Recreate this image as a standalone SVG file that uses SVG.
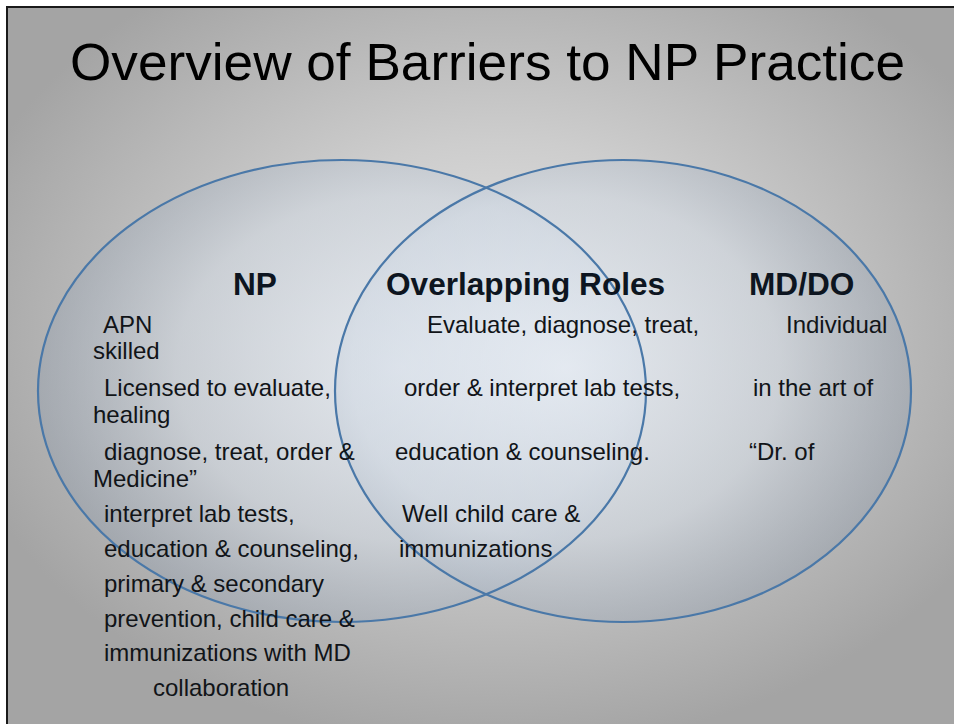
<svg xmlns="http://www.w3.org/2000/svg" width="954" height="724" viewBox="0 0 954 724">
  <defs>
    <radialGradient id="bg" cx="500" cy="330" r="560" gradientUnits="userSpaceOnUse" gradientTransform="translate(500 330) scale(1 0.75) translate(-500 -330)">
      <stop offset="0" stop-color="#e6e6e6"/>
      <stop offset="0.45" stop-color="#cdcdcd"/>
      <stop offset="1" stop-color="#a4a4a4"/>
    </radialGradient>
    <radialGradient id="setFill" cx="0.6" cy="0.45" r="0.62">
      <stop offset="0" stop-color="#e8eef6" stop-opacity="0.7"/>
      <stop offset="0.6" stop-color="#cfd8e3" stop-opacity="0.5"/>
      <stop offset="1" stop-color="#8f9bab" stop-opacity="0.4"/>
    </radialGradient>
    <radialGradient id="setFillR" cx="0.4" cy="0.45" r="0.62">
      <stop offset="0" stop-color="#e8eef6" stop-opacity="0.7"/>
      <stop offset="0.6" stop-color="#cfd8e3" stop-opacity="0.5"/>
      <stop offset="1" stop-color="#8f9bab" stop-opacity="0.4"/>
    </radialGradient>
  </defs>
  <style>
    .outline { fill: none; stroke: #4a78a8; stroke-width: 2.2; }
    .title { font-family: "Liberation Sans", Arial, sans-serif; font-size: 52px; fill: #000; }
    .head { font-family: "Liberation Sans", Arial, sans-serif; font-size: 31.6px; font-weight: bold; fill: #0d1520; }
    .body { font-family: "Liberation Sans", Arial, sans-serif; font-size: 24px; fill: #111418; }
  </style>

  <!-- page and backdrop -->
  <rect x="0" y="0" width="954" height="724" fill="#ffffff"/>
  <rect x="7" y="7" width="947" height="717" fill="url(#bg)"/>
  <path d="M7 724 V7 H954" fill="none" stroke="#1a1a1a" stroke-width="2"/>

  <text class="title" x="70" y="80" textLength="835" lengthAdjust="spacingAndGlyphs">Overview of Barriers to NP Practice</text>

  <!-- the two sets -->
  <g id="set-np">
    <ellipse cx="342" cy="391" rx="304" ry="231" fill="url(#setFill)"/>
  </g>
  <g id="set-md">
    <ellipse cx="623" cy="391" rx="288" ry="231" fill="url(#setFillR)"/>
  </g>
  <g id="set-outlines">
    <ellipse class="outline" cx="342" cy="391" rx="304" ry="231"/>
    <ellipse class="outline" cx="623" cy="391" rx="288" ry="231"/>
  </g>

  <!-- NP column -->
  <g id="np-text">
    <text class="head" x="233" y="295">NP</text>
    <text class="body" x="103" y="333">APN</text>
    <text class="body" x="93" y="359">skilled</text>
    <text class="body" x="104" y="396">Licensed to evaluate,</text>
    <text class="body" x="93" y="423">healing</text>
    <text class="body" x="104" y="460">diagnose, treat, order &amp;</text>
    <text class="body" x="93" y="487">Medicine”</text>
    <text class="body" x="104" y="522">interpret lab tests,</text>
    <text class="body" x="104" y="557">education &amp; counseling,</text>
    <text class="body" x="104" y="592">primary &amp; secondary</text>
    <text class="body" x="104" y="627">prevention, child care &amp;</text>
    <text class="body" x="104" y="661">immunizations with MD</text>
    <text class="body" x="153" y="696">collaboration</text>
  </g>

  <!-- shared roles -->
  <g id="overlap-text">
    <text class="head" x="386" y="295">Overlapping Roles</text>
    <text class="body" x="427" y="333">Evaluate, diagnose, treat,</text>
    <text class="body" x="404" y="396">order &amp; interpret lab tests,</text>
    <text class="body" x="395" y="460">education &amp; counseling.</text>
    <text class="body" x="402" y="522">Well child care &amp;</text>
    <text class="body" x="399" y="557">immunizations</text>
  </g>

  <!-- MD/DO column -->
  <g id="md-text">
    <text class="head" x="749" y="295">MD/DO</text>
    <text class="body" x="786" y="333">Individual</text>
    <text class="body" x="753" y="396">in the art of</text>
    <text class="body" x="749" y="460">“Dr. of</text>
  </g>
</svg>
